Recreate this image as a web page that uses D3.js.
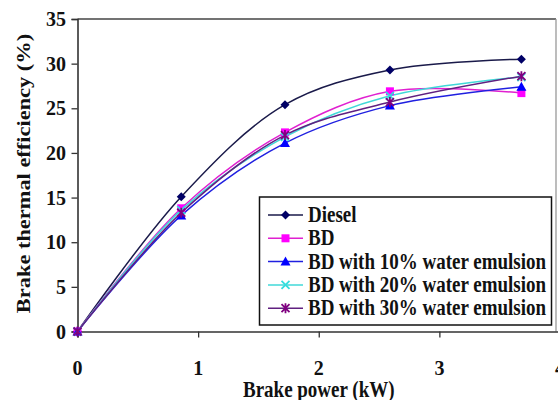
<!DOCTYPE html>
<html><head><meta charset="utf-8">
<script src="https://cdn.jsdelivr.net/npm/d3@7"></script>
<style>html,body{margin:0;padding:0;background:#fff;}svg{display:block;}</style>
</head><body>
<svg id="c" width="558" height="400"></svg>
<script>
const brakePower = [0, 0.86, 1.72, 2.59, 3.68];
const seriesNames = ["Diesel", "BD", "BD with 10% water emulsion", "BD with 20% water emulsion", "BD with 30% water emulsion"];
const diesel = [0, 15.1, 25.4, 29.3, 30.5];
const bd     = [0, 13.8, 22.3, 26.9, 26.7];
const bd10   = [0, 13.0, 21.1, 25.3, 27.4];
const bd20   = [0, 13.6, 21.8, 26.4, 28.5];
const bd30   = [0, 13.3, 22.0, 25.7, 28.6];
const xTicks = [0, 1, 2, 3, 4];
const yTicks = [0, 5, 10, 15, 20, 25, 30, 35];
const xTitle = "Brake power (kW)";
const yTitle = "Brake thermal efficiency (%)";

const colors = ["#000066", "#ff00ff", "#0000ff", "#33dddd", "#800080"];
const lineColors = ["#1a1a4a", "#e020d0", "#2020e0", "#40d8d8", "#602080"];
const symbols = ["diamond", "square", "triangle", "x", "star"];
const values = [diesel, bd, bd10, bd20, bd30];

const svg = d3.select("#c");
const x = d3.scaleLinear().domain([0, 4]).range([77.5, 560]);
const y = d3.scaleLinear().domain([0, 35]).range([331.5, 19]);
const FONT = "'Liberation Serif','Times New Roman',serif";

// frame
svg.append("line").attr("x1", x(0)).attr("x2", 556).attr("y1", y(35)).attr("y2", y(35)).attr("stroke", "#444").attr("stroke-width", 1.3);
svg.append("line").attr("x1", 556).attr("x2", 556).attr("y1", y(35)).attr("y2", y(0)).attr("stroke", "#999").attr("stroke-width", 1.3);

// axes
const gx = svg.append("g").attr("transform", `translate(0,${y(0)})`)
  .call(d3.axisBottom(x).tickValues(xTicks).tickSize(6).tickFormat(""));
const gy = svg.append("g").attr("transform", `translate(${x(0)},0)`)
  .call(d3.axisLeft(y).tickValues(yTicks).tickSize(6).tickFormat(""));
[gx, gy].forEach(g => { g.select(".domain").attr("stroke", "#333").attr("stroke-width", 1.6); g.selectAll(".tick line").attr("stroke", "#333").attr("stroke-width", 1.3); });

// tick labels
svg.append("g").selectAll("text").data(xTicks).join("text")
  .attr("x", d => x(d)).attr("y", 374.5).attr("text-anchor", "middle")
  .attr("font-family", FONT).attr("font-weight", "bold").attr("font-size", 20).attr("fill", "#111")
  .text(d => d);
svg.append("g").selectAll("text").data(yTicks).join("text")
  .attr("x", 66).attr("y", d => y(d) + 7).attr("text-anchor", "end")
  .attr("font-family", FONT).attr("font-weight", "bold").attr("font-size", 20).attr("fill", "#111")
  .text(d => d);

// axis titles (vertically stretched like the source)
svg.append("text").attr("transform", `translate(${(x(0) + x(4)) / 2},396.5) scale(1,1.18)`)
  .attr("text-anchor", "middle").attr("font-family", FONT).attr("font-weight", "bold").attr("font-size", 19).attr("fill", "#111")
  .text(xTitle);
svg.append("text").attr("transform", `translate(30,173.5) rotate(-90) scale(1.18,1)`)
  .attr("text-anchor", "middle").attr("font-family", FONT).attr("font-weight", "bold").attr("font-size", 19).attr("fill", "#111")
  .text(yTitle);

// markers
function marker(g, type, color, cx, cy) {
  const s = 4.5;
  if (type === "diamond") g.append("path").attr("d", `M${cx},${cy - s}L${cx + s},${cy}L${cx},${cy + s}L${cx - s},${cy}Z`).attr("fill", color);
  else if (type === "square") g.append("rect").attr("x", cx - 4).attr("y", cy - 4).attr("width", 8).attr("height", 8).attr("fill", color);
  else if (type === "triangle") g.append("path").attr("d", `M${cx},${cy - 5}L${cx + 5},${cy + 4}L${cx - 5},${cy + 4}Z`).attr("fill", color);
  else if (type === "x") g.append("path").attr("d", `M${cx - 4},${cy - 4}L${cx + 4},${cy + 4}M${cx - 4},${cy + 4}L${cx + 4},${cy - 4}`).attr("stroke", color).attr("stroke-width", 1.8);
  else if (type === "star") g.append("path").attr("d", `M${cx - 4},${cy - 4}L${cx + 4},${cy + 4}M${cx - 4},${cy + 4}L${cx + 4},${cy - 4}M${cx},${cy - 5}L${cx},${cy + 5}`).attr("stroke", color).attr("stroke-width", 1.8);
}

const line = d3.line().x(d => x(d[0])).y(d => y(d[1])).curve(d3.curveCatmullRom.alpha(0.5));
values.forEach((vals, i) => {
  const pts = brakePower.map((b, j) => [b, vals[j]]);
  svg.append("path").attr("d", line(pts)).attr("fill", "none").attr("stroke", lineColors[i]).attr("stroke-width", 1.5);
});
values.forEach((vals, i) => {
  const g = svg.append("g");
  brakePower.forEach((b, j) => marker(g, symbols[i], colors[i], x(b), y(vals[j])));
});

// legend
const lg = svg.append("g");
lg.append("rect").attr("x", 259.5).attr("y", 197).attr("width", 292).attr("height", 128).attr("fill", "#fff").attr("stroke", "#111").attr("stroke-width", 1.5);
seriesNames.forEach((name, i) => {
  const cy = 215 + i * 23.3;
  lg.append("line").attr("x1", 268).attr("x2", 303).attr("y1", cy).attr("y2", cy).attr("stroke", lineColors[i]).attr("stroke-width", 1.5);
  marker(lg, symbols[i], colors[i], 285.5, cy);
  lg.append("text").attr("transform", `translate(308,${cy + 7}) scale(1,1.18)`)
    .attr("font-family", FONT).attr("font-weight", "bold").attr("font-size", 19).attr("fill", "#111")
    .text(name);
});
</script>
</body></html>
